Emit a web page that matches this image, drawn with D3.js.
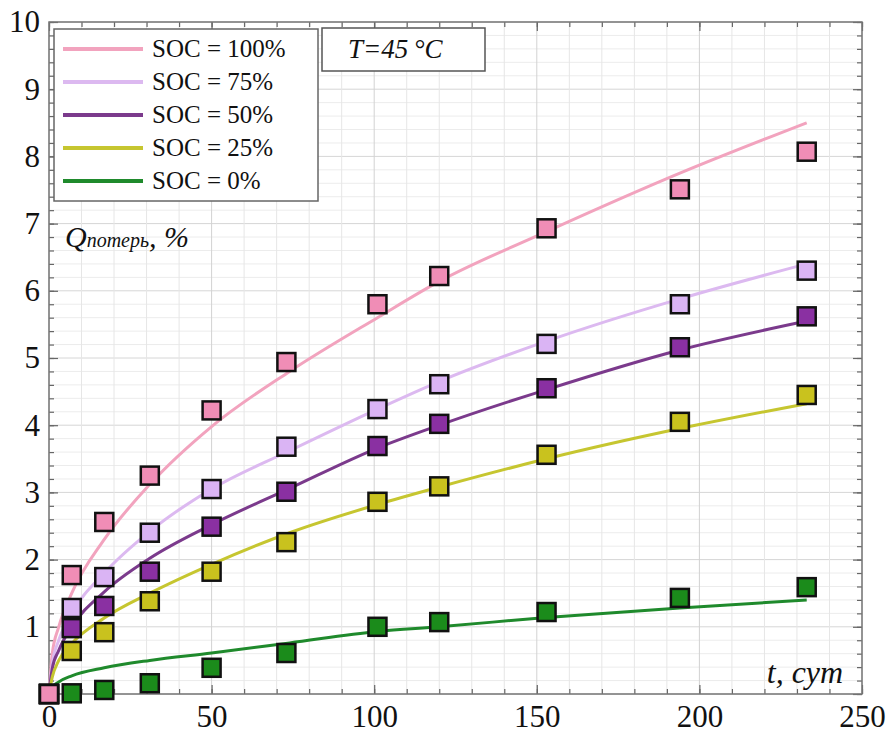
<!DOCTYPE html>
<html>
<head>
<meta charset="utf-8">
<script src="https://cdn.jsdelivr.net/npm/d3@7"></script>
<style>
  body { margin: 0; background: #fff; }
  svg text { font-family: "Liberation Serif", "Times New Roman", Times, "DejaVu Serif", serif; }
</style>
</head>
<body>
<div id="viz"></div>
<script>
// measured points (t, days)
var days = [0, 7, 17, 31, 50, 73, 101, 120, 153, 194, 233];
var soc100 = [0, 1.77, 2.56, 3.25, 4.22, 4.94, 5.8, 6.22, 6.93, 7.51, 8.07];
var soc75 = [0, 1.28, 1.74, 2.4, 3.05, 3.68, 4.24, 4.61, 5.21, 5.8, 6.3];
var soc50 = [0, 0.98, 1.31, 1.82, 2.49, 3.01, 3.69, 4.02, 4.55, 5.16, 5.62];
var soc25 = [0, 0.64, 0.92, 1.38, 1.82, 2.26, 2.86, 3.09, 3.56, 4.05, 4.45];
var soc0 = [0, 0.01, 0.06, 0.16, 0.39, 0.61, 1.0, 1.07, 1.22, 1.43, 1.59];

// fitted curves
var fitDays = [0, 1, 3, 7, 17, 31, 50, 74, 101, 120, 153, 194, 233];
var fit100 = [0, 0.6, 1.0, 1.5, 2.3, 3.12, 3.98, 4.8, 5.6, 6.14, 6.88, 7.75, 8.5];
var fit75 = [0, 0.45, 0.8, 1.2, 1.8, 2.42, 3.05, 3.62, 4.24, 4.65, 5.25, 5.88, 6.4];
var fit50 = [0, 0.38, 0.65, 1.0, 1.52, 2.02, 2.52, 3.06, 3.66, 4.0, 4.53, 5.12, 5.55];
var fit25 = [0, 0.25, 0.5, 0.75, 1.13, 1.5, 1.93, 2.4, 2.82, 3.08, 3.5, 3.95, 4.32];
var fit0 = [0, 0.1, 0.18, 0.27, 0.39, 0.5, 0.61, 0.76, 0.93, 1.0, 1.14, 1.28, 1.4];

var names = ["SOC = 100%", "SOC = 75%", "SOC = 50%", "SOC = 25%", "SOC = 0%"];
var lineColors = ["#f2a3be", "#dcb9f0", "#7b3a8c", "#c6c630", "#1f8a2c"];
var markColors = ["#f08db6", "#dab4f4", "#8a30a2", "#c9c21e", "#1b8b1b"];
var xTicks = [0, 50, 100, 150, 200, 250];
var yTicks = [1, 2, 3, 4, 5, 6, 7, 8, 9, 10];

var series = [
  {name: names[0], pts: soc100, fit: fit100, line: lineColors[0], fill: markColors[0]},
  {name: names[1], pts: soc75, fit: fit75, line: lineColors[1], fill: markColors[1]},
  {name: names[2], pts: soc50, fit: fit50, line: lineColors[2], fill: markColors[2]},
  {name: names[3], pts: soc25, fit: fit25, line: lineColors[3], fill: markColors[3]},
  {name: names[4], pts: soc0, fit: fit0, line: lineColors[4], fill: markColors[4]}
];

var serif = "'Liberation Serif', 'Times New Roman', Times, 'DejaVu Serif', serif";

var margin = {top: 22, right: 31, bottom: 41, left: 49},
    width = 893 - margin.left - margin.right,
    height = 735 - margin.top - margin.bottom;

var svg = d3.select("#viz")
    .append("svg")
    .attr("width", 893)
    .attr("height", 735)
    .append("g")
    .attr("transform", "translate(" + margin.left + "," + margin.top + ")");

var x = d3.scaleLinear().domain([0, 250]).range([0, width]);
var y = d3.scaleLinear().domain([0, 10]).range([height, 0]);

// grid
svg.append("g").selectAll("line")
    .data(d3.range(0, 10.01, 0.2))
    .enter().append("line")
    .attr("x1", 0).attr("x2", width)
    .attr("y1", function (d) { return y(d); })
    .attr("y2", function (d) { return y(d); })
    .attr("stroke", function (d) { return Math.abs(d - Math.round(d)) < 0.01 ? "#d6d6d6" : "#ececec"; })
    .attr("stroke-width", 1);
svg.append("g").selectAll("line")
    .data(d3.range(0, 251, 10))
    .enter().append("line")
    .attr("y1", 0).attr("y2", height)
    .attr("x1", function (d) { return x(d); })
    .attr("x2", function (d) { return x(d); })
    .attr("stroke", function (d) { return d % 50 === 0 ? "#d2d2d2" : "#e6e6e6"; })
    .attr("stroke-width", 1);

// inner ticks on all four sides
function ticksOn(axis, vals, size, t) {
    var g = svg.append("g")
        .attr("transform", t)
        .call(axis.tickValues(vals).tickSize(-size).tickFormat(""));
    g.select(".domain").remove();
    g.selectAll("line").attr("stroke", "#666").attr("stroke-width", 1.2);
}
var minorX = d3.range(0, 251, 10), majorX = xTicks;
var minorY = d3.range(0, 10.01, 0.2), majorY = d3.range(0, 11, 1);
ticksOn(d3.axisBottom(x), minorX, 5, "translate(0," + height + ")");
ticksOn(d3.axisBottom(x), majorX, 9, "translate(0," + height + ")");
ticksOn(d3.axisTop(x), minorX, 5, "");
ticksOn(d3.axisTop(x), majorX, 9, "");
ticksOn(d3.axisLeft(y), minorY, 5, "");
ticksOn(d3.axisLeft(y), majorY, 9, "");
ticksOn(d3.axisRight(y), minorY, 5, "translate(" + width + ",0)");
ticksOn(d3.axisRight(y), majorY, 9, "translate(" + width + ",0)");

svg.append("rect")
    .attr("width", width).attr("height", height)
    .attr("fill", "none").attr("stroke", "#777").attr("stroke-width", 1.5);

// tick labels
var xl = svg.append("g")
    .attr("transform", "translate(0," + height + ")")
    .call(d3.axisBottom(x).tickValues(xTicks).tickSize(0).tickPadding(11));
xl.attr("font-family", serif);
xl.select(".domain").remove();
xl.selectAll("text").attr("font-size", 31).attr("fill", "#111");

var yl = svg.append("g")
    .call(d3.axisLeft(y).tickValues(yTicks).tickSize(0).tickPadding(9));
yl.attr("font-family", serif);
yl.select(".domain").remove();
yl.selectAll("text").attr("font-size", 31).attr("fill", "#111");

// curves
var line = d3.line()
    .curve(d3.curveMonotoneX)
    .x(function (d) { return x(d[0]); })
    .y(function (d) { return y(d[1]); });

series.forEach(function (s) {
    svg.append("path")
        .datum(fitDays.map(function (t, i) { return [t, s.fit[i]]; }))
        .attr("fill", "none")
        .attr("stroke", s.line)
        .attr("stroke-width", 3)
        .attr("d", line);
});

// markers, 0% first so 100% sits on top at origin
var sq = 18;
series.slice().reverse().forEach(function (s) {
    svg.append("g").selectAll("rect")
        .data(days.map(function (t, i) { return [t, s.pts[i]]; }))
        .enter().append("rect")
        .attr("x", function (d) { return x(d[0]) - sq / 2; })
        .attr("y", function (d) { return y(d[1]) - sq / 2; })
        .attr("width", sq).attr("height", sq)
        .attr("fill", s.fill)
        .attr("stroke", "#111")
        .attr("stroke-width", 2.5);
});

// legend
var lg = svg.append("g").attr("transform", "translate(" + (54 - margin.left) + "," + (29 - margin.top) + ")");
lg.append("rect")
    .attr("width", 264).attr("height", 172)
    .attr("fill", "#fff").attr("stroke", "#666").attr("stroke-width", 1.5);
series.forEach(function (s, i) {
    var yy = 20 + i * 33;
    lg.append("line")
        .attr("x1", 9).attr("x2", 89)
        .attr("y1", yy).attr("y2", yy)
        .attr("stroke", s.line).attr("stroke-width", 4);
    lg.append("text")
        .attr("x", 98).attr("y", yy + 8)
        .attr("font-family", serif)
        .attr("font-size", 25).attr("fill", "#111")
        .text(s.name);
});

// temperature box
var tb = svg.append("g").attr("transform", "translate(" + (322 - margin.left) + "," + (28 - margin.top) + ")");
tb.append("rect")
    .attr("width", 163).attr("height", 43)
    .attr("fill", "#fff").attr("stroke", "#555").attr("stroke-width", 1.5);
tb.append("text")
    .attr("x", 26).attr("y", 30)
    .attr("font-family", serif)
    .attr("font-size", 27).attr("font-style", "italic").attr("fill", "#111")
    .text("T=45\u2009°C");

// axis titles
var q = svg.append("text")
    .attr("x", 65 - margin.left).attr("y", 247 - margin.top)
    .attr("font-family", serif)
    .attr("font-style", "italic").attr("fill", "#111");
q.append("tspan").attr("font-size", 30).text("Q");
q.append("tspan").attr("font-size", 20).text("потерь");
q.append("tspan").attr("font-size", 30).text(", %");

svg.append("text")
    .attr("x", 843 - margin.left).attr("y", 683 - margin.top)
    .attr("text-anchor", "end")
    .attr("font-family", serif)
    .attr("font-size", 32).attr("font-style", "italic").attr("fill", "#111")
    .text("t, сут");
</script>
</body>
</html>
